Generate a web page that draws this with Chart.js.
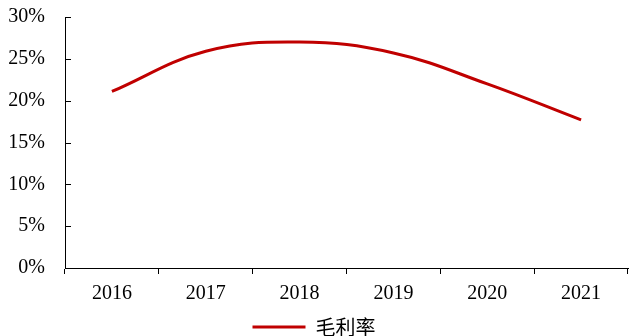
<!DOCTYPE html>
<html>
<head>
<meta charset="utf-8">
<script src="https://cdn.jsdelivr.net/npm/chart.js@4"></script>
<style>
  html, body { margin: 0; padding: 0; background: #fff; }
  #wrap { width: 629px; height: 336px; }
</style>
</head>
<body>
<div id="wrap"><canvas id="marginChart" width="629" height="336"></canvas></div>
<script>
const years = ['2016', '2017', '2018', '2019', '2020', '2021'];
const grossMargin = [0.211, 0.259, 0.270, 0.257, 0.220, 0.177];
const seriesName = '毛利率';
const yTicks = [0, 0.05, 0.10, 0.15, 0.20, 0.25, 0.30];

// y-axis ticks point into the plot, so draw them by hand
const innerTicks = {
    id: 'innerTicks',
    afterDraw(chart) {
        const y = chart.scales.y;
        const ctx = chart.ctx;
        ctx.save();
        ctx.strokeStyle = '#000';
        ctx.lineWidth = 1;
        yTicks.forEach(function (v) {
            const py = Math.round(y.getPixelForValue(v)) + 0.5;
            ctx.beginPath();
            ctx.moveTo(y.right, py);
            ctx.lineTo(y.right + 6, py);
            ctx.stroke();
        });
        ctx.restore();
    }
};

const serif = '"Liberation Serif", "Times New Roman", serif';

const ctx = document.getElementById('marginChart').getContext('2d');
new Chart(ctx, {
    type: 'line',
    data: {
        labels: years,
        datasets: [{
            label: seriesName,
            data: grossMargin,
            borderColor: '#C00000',
            backgroundColor: '#C00000',
            borderWidth: 3,
            pointRadius: 0,
            tension: 0.4,
            fill: false
        }]
    },
    options: {
        responsive: false,
        animation: false,
        layout: { padding: { top: 17, right: 1, left: 0, bottom: -11 } },
        plugins: {
            legend: {
                position: 'bottom',
                labels: {
                    usePointStyle: true,
                    pointStyle: 'line',
                    pointStyleWidth: 53,
                    color: '#000',
                    font: { family: '"Noto Sans CJK SC", serif', size: 20 },
                    padding: 0
                }
            },
            tooltip: { enabled: false }
        },
        scales: {
            x: {
                offset: true,
                afterFit(scale) { scale.height += 3; },
                grid: {
                    offset: true,
                    drawOnChartArea: false,
                    tickLength: 6,
                    color: '#000'
                },
                border: { color: '#000', width: 1 },
                ticks: {
                    color: '#000',
                    padding: 8,
                    maxRotation: 0,
                    font: { family: serif, size: 20 }
                }
            },
            y: {
                min: 0,
                max: 0.3,
                afterFit(scale) {
                    scale.width = 65;
                    scale.paddingTop = 0;
                    scale.paddingBottom = 0;
                },
                afterBuildTicks(scale) {
                    scale.ticks = yTicks.map(function (v) { return { value: v }; });
                },
                grid: { drawOnChartArea: false, drawTicks: false },
                border: { color: '#000', width: 1 },
                ticks: {
                    color: '#000',
                    padding: 20,
                    font: { family: serif, size: 20 },
                    callback: function (v) { return Math.round(v * 100) + '%'; }
                }
            }
        }
    },
    plugins: [innerTicks]
});
</script>
</body>
</html>
